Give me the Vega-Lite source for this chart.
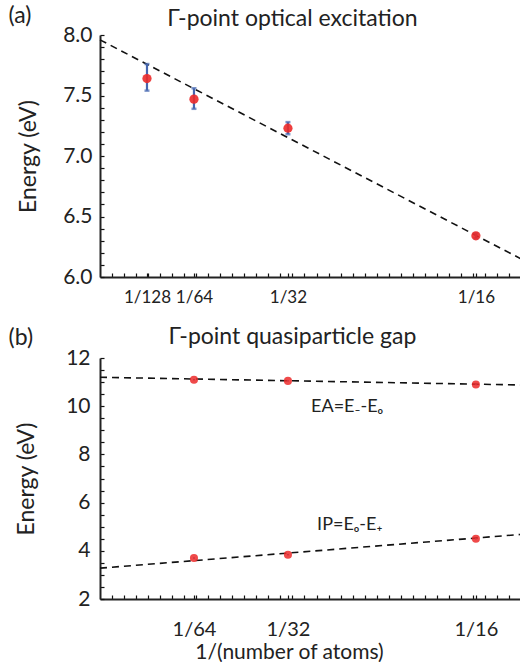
{
  "$schema": "https://vega.github.io/schema/vega-lite/v6.json",
  "padding": {"left": 8, "top": 4, "right": 0, "bottom": 0},
  "spacing": 21,
  "datasets": {
    "optical": [
      {"x": 0.0078125, "E": 7.64, "lo": 7.54, "hi": 7.76},
      {"x": 0.015625, "E": 7.47, "lo": 7.39, "hi": 7.56},
      {"x": 0.03125, "E": 7.23, "lo": 7.18, "hi": 7.28},
      {"x": 0.0625, "E": 6.34, "lo": 6.32, "hi": 6.36}
    ],
    "fitA": [
      {"x": 0, "E": 7.96},
      {"x": 0.07, "E": 6.15}
    ],
    "textA": [
      {"x": -0.0152, "E": 8.1, "t": "(a)", "kind": "panel"},
      {"x": 0.032, "E": 8.074, "t": "Γ-point optical excitation", "kind": "title"}
    ],
    "gap": [
      {"series": "EA", "x": 0.015625, "E": 11.1, "lo": 11.07, "hi": 11.13},
      {"series": "EA", "x": 0.03125, "E": 11.05, "lo": 11.02, "hi": 11.08},
      {"series": "EA", "x": 0.0625, "E": 10.9, "lo": 10.87, "hi": 10.93},
      {"series": "IP", "x": 0.015625, "E": 3.7, "lo": 3.67, "hi": 3.73},
      {"series": "IP", "x": 0.03125, "E": 3.84, "lo": 3.81, "hi": 3.87},
      {"series": "IP", "x": 0.0625, "E": 4.5, "lo": 4.47, "hi": 4.53}
    ],
    "fitB": [
      {"series": "EA", "x": 0, "E": 11.2},
      {"series": "EA", "x": 0.07, "E": 10.88},
      {"series": "IP", "x": 0, "E": 3.28},
      {"series": "IP", "x": 0.07, "E": 4.68}
    ],
    "textB": [
      {"x": -0.0152, "E": 12.54, "t": "(b)", "kind": "panel"},
      {"x": 0.032, "E": 12.57, "t": "Γ-point quasiparticle gap", "kind": "title"}
    ],
    "labelsB": [
      {"x": 0.0351, "E": 9.97, "t": "EA=E₋-Eₒ"},
      {"x": 0.0361, "E": 5.07, "t": "IP=Eₒ-E₊"}
    ]
  },
  "vconcat": [
    {
      "width": 421,
      "height": 242,
      "layer": [
        {
          "data": {"name": "fitA"},
          "mark": {"type": "line", "strokeDash": [7, 5], "color": "#111", "strokeWidth": 1.6},
          "encoding": {
            "x": {
              "field": "x", "type": "quantitative",
              "scale": {"domain": [0, 0.07], "nice": false, "zero": false},
              "axis": {
                "title": null,
                "ticks": true,
                "tickCount": 200,
                "tickColor": "#111",
                "tickOpacity": 1,
                "tickWidth": 1.2,
                "labelOverlap": false,
                "values": [0.002,0.004,0.006,0.0078125,0.008,0.01,0.012,0.014,0.015625,0.016,0.018,0.02,0.022,0.024,0.026,0.028,0.03,0.03125,0.032,0.034,0.036,0.038,0.04,0.042,0.044,0.046,0.048,0.05,0.052,0.054,0.056,0.058,0.06,0.062,0.0625,0.064,0.066,0.068],
                "labelExpr": "datum.value==0.0078125?'1/128':datum.value==0.015625?'1/64':datum.value==0.03125?'1/32':datum.value==0.0625?'1/16':''",
                "labelFontSize": {"condition": {"test": "indexof([0.0078125,0.015625,0.03125,0.0625], datum.value) < 0", "value": 0}, "value": 17},
                "tickSize": -4,
                "labelPadding": 16
              }
            },
            "y": {
              "field": "E", "type": "quantitative",
              "scale": {"domain": [6, 8], "nice": false, "zero": false},
              "axis": {
                "title": "Energy (eV)",
                "ticks": true,
                "tickCount": 200,
                "tickColor": "#111",
                "tickOpacity": 1,
                "tickWidth": 1.2,
                "labelOverlap": false,
                "values": [6,6.1,6.2,6.3,6.4,6.5,6.6,6.7,6.8,6.9,7,7.1,7.2,7.3,7.4,7.5,7.6,7.7,7.8,7.9,8],
                "labelExpr": "abs(datum.value*2-round(datum.value*2))<0.001 ? format(datum.value,'.1f') : ''",
                "labelFontSize": {"condition": {"test": "abs(datum.value*2-round(datum.value*2))>0.001", "value": 0}, "value": 21},
                "tickSize": -4,
                "labelPadding": 12,
                "titlePadding": 22
              }
            }
          }
        },
        {
          "data": {"name": "optical"},
          "mark": {"type": "rule", "strokeWidth": 2.2, "color": "#4566b0"},
          "encoding": {
            "x": {"field": "x", "type": "quantitative"},
            "y": {"field": "lo", "type": "quantitative"},
            "y2": {"field": "hi"}
          }
        },
        {
          "data": {"name": "optical"},
          "mark": {"type": "tick", "orient": "horizontal", "size": 5, "thickness": 2.5, "color": "#4566b0"},
          "encoding": {
            "x": {"field": "x", "type": "quantitative"},
            "y": {"field": "lo", "type": "quantitative"}
          }
        },
        {
          "data": {"name": "optical"},
          "mark": {"type": "tick", "orient": "horizontal", "size": 5, "thickness": 2.5, "color": "#4566b0"},
          "encoding": {
            "x": {"field": "x", "type": "quantitative"},
            "y": {"field": "hi", "type": "quantitative"}
          }
        },
        {
          "data": {"name": "optical"},
          "mark": {"type": "point", "filled": true, "color": "#ec2a2a", "size": 85, "opacity": 0.9},
          "encoding": {
            "x": {"field": "x", "type": "quantitative"},
            "y": {"field": "E", "type": "quantitative"}
          }
        },
        {
          "data": {"name": "textA"},
          "transform": [{"filter": "datum.kind == 'panel'"}],
          "mark": {"type": "text", "align": "left", "baseline": "alphabetic", "fontSize": 23, "font": "Lato", "color": "#222", "clip": false},
          "encoding": {
            "x": {"field": "x", "type": "quantitative"},
            "y": {"field": "E", "type": "quantitative"},
            "text": {"field": "t"}
          }
        },
        {
          "data": {"name": "textA"},
          "transform": [{"filter": "datum.kind == 'title'"}],
          "mark": {"type": "text", "align": "center", "baseline": "alphabetic", "fontSize": 23, "font": "Lato", "color": "#222", "clip": false},
          "encoding": {
            "x": {"field": "x", "type": "quantitative"},
            "y": {"field": "E", "type": "quantitative"},
            "text": {"field": "t"}
          }
        }
      ]
    },
    {
      "width": 421,
      "height": 241,
      "layer": [
        {
          "data": {"name": "fitB"},
          "mark": {"type": "line", "strokeDash": [7, 5], "color": "#111", "strokeWidth": 1.6},
          "encoding": {
            "x": {
              "field": "x", "type": "quantitative",
              "scale": {"domain": [0, 0.07], "nice": false, "zero": false},
              "axis": {
                "title": "1/(number of atoms)",
                "titleX": 189,
                "titleFontSize": 21,
                "ticks": true,
                "tickCount": 200,
                "tickColor": "#111",
                "tickOpacity": 1,
                "tickWidth": 1.2,
                "labelOverlap": false,
                "values": [0.002,0.004,0.006,0.008,0.01,0.012,0.014,0.015625,0.016,0.018,0.02,0.022,0.024,0.026,0.028,0.03,0.03125,0.032,0.034,0.036,0.038,0.04,0.042,0.044,0.046,0.048,0.05,0.052,0.054,0.056,0.058,0.06,0.062,0.0625,0.064,0.066,0.068],
                "labelExpr": "datum.value==0.015625?'1/64':datum.value==0.03125?'1/32':datum.value==0.0625?'1/16':''",
                "labelFontSize": {"condition": {"test": "indexof([0.015625,0.03125,0.0625], datum.value) < 0", "value": 0}, "value": 20},
                "tickSize": -4,
                "labelPadding": 24,
                "titlePadding": 2
              }
            },
            "y": {
              "field": "E", "type": "quantitative",
              "scale": {"domain": [2, 12], "nice": false, "zero": false},
              "axis": {
                "title": "Energy (eV)",
                "ticks": true,
                "tickCount": 200,
                "tickColor": "#111",
                "tickOpacity": 1,
                "tickWidth": 1.2,
                "labelOverlap": false,
                "values": [2,2.5,3,3.5,4,4.5,5,5.5,6,6.5,7,7.5,8,8.5,9,9.5,10,10.5,11,11.5,12],
                "labelExpr": "datum.value % 2 == 0 ? '' + datum.value : ''",
                "labelFontSize": {"condition": {"test": "datum.value % 2 != 0", "value": 0}, "value": 21},
                "tickSize": -4,
                "labelPadding": 14,
                "titlePadding": 27
              }
            },
            "detail": {"field": "series"}
          }
        },
        {
          "data": {"name": "gap"},
          "mark": {"type": "rule", "strokeWidth": 2, "color": "#4566b0"},
          "encoding": {
            "x": {"field": "x", "type": "quantitative"},
            "y": {"field": "lo", "type": "quantitative"},
            "y2": {"field": "hi"}
          }
        },
        {
          "data": {"name": "gap"},
          "mark": {"type": "point", "filled": true, "color": "#ec2a2a", "size": 65, "opacity": 0.85},
          "encoding": {
            "x": {"field": "x", "type": "quantitative"},
            "y": {"field": "E", "type": "quantitative"}
          }
        },
        {
          "data": {"name": "labelsB"},
          "mark": {"type": "text", "align": "left", "baseline": "middle", "fontSize": 18, "font": "Lato", "color": "#222"},
          "encoding": {
            "x": {"field": "x", "type": "quantitative"},
            "y": {"field": "E", "type": "quantitative"},
            "text": {"field": "t"}
          }
        },
        {
          "data": {"name": "textB"},
          "transform": [{"filter": "datum.kind == 'panel'"}],
          "mark": {"type": "text", "align": "left", "baseline": "alphabetic", "fontSize": 23, "font": "Lato", "color": "#222", "clip": false},
          "encoding": {
            "x": {"field": "x", "type": "quantitative"},
            "y": {"field": "E", "type": "quantitative"},
            "text": {"field": "t"}
          }
        },
        {
          "data": {"name": "textB"},
          "transform": [{"filter": "datum.kind == 'title'"}],
          "mark": {"type": "text", "align": "center", "baseline": "alphabetic", "fontSize": 23, "font": "Lato", "color": "#222", "clip": false},
          "encoding": {
            "x": {"field": "x", "type": "quantitative"},
            "y": {"field": "E", "type": "quantitative"},
            "text": {"field": "t"}
          }
        }
      ]
    }
  ],
  "config": {
    "view": {"stroke": null},
    "axis": {
      "grid": false,
      "domainColor": "#222",
      "domainWidth": 2,
      "labelFont": "Lato",
      "labelFontSize": 21,
      "labelColor": "#222",
      "labelFlush": false,
      "titleFont": "Lato",
      "titleFontSize": 23,
      "titleFontWeight": "normal",
      "titleColor": "#222"
    }
  }
}
